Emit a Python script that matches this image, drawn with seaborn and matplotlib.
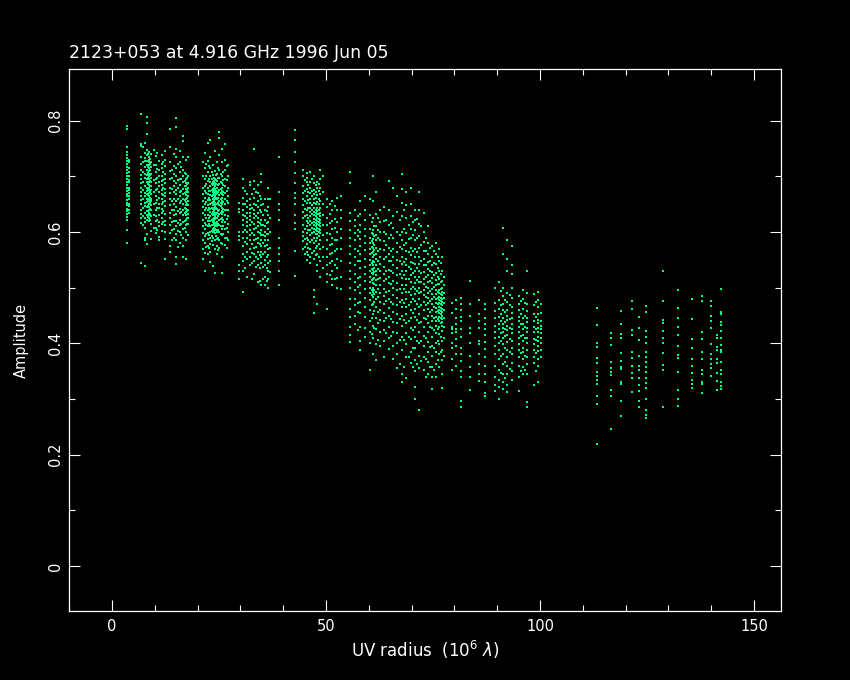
import matplotlib
matplotlib.use("Agg")
import matplotlib.pyplot as plt
import seaborn as sns
import pandas as pd
from matplotlib.ticker import MultipleLocator

TITLE = "2123+053 at 4.916 GHz 1996 Jun 05"
XLABEL = r"UV radius  (10$^{6}$ $\lambda$)"
YLABEL = "Amplitude"
x_major = [0, 50, 100, 150]
y_major = [0, 0.2, 0.4, 0.6, 0.8]

# each pair: UV radius (10^6 lambda) and the amplitudes (milli-units) read along that track
tracks = []
def T(x, vals): tracks.append((x, vals))

# cluster near 4
T(3.6,[790,785,753,744,738,733,728,722,716,711,706,700,695,690,684,679,674,669,664,658,653,648,642,637,632,627,622,604,580])
T(4.0,[730,715,700,690,680,670,660,650,640,726,708,694,676,664,646,634])
# 7-9
T(6.7,[813,759,755,735,722,712,703,695,688,680,672,665,657,650,640,632,625,617,545])
T(7.6,[760,742,733,728,716,704,698,683,671,664,652,646,634,626,618,607,590,585,539])
T(8.2,[807,796,776,748,738,728,720,712,702,695,690,680,674,668,660,654,645,638,630,622,596,578])
T(8.7,[744,735,730,725,720,715,710,705,700,695,690,685,680,675,670,665,660,655,650,645,640,635,630,625,620])
T(9.2,[740,725,716,705,698,690,682,676,668,660,655,648,640,628,615,601,588])
T(8.45,[741,727,717,707,697,687,677,667,657,647,637,627])
T(8.95,[732,722,712,702,692,682,672,662,652,642,632,622])
T(7.2,[752,726,708,690,676,660,644,628,612])
T(9.7,[748,720,694,672,650,630,608])
# 10-12.4
T(10.2,[736,720,708,695,688,675,664,652,640,628,620,607,598])
T(11.0,[728,712,700,690,682,672,662,651,643,630,618,610,591,586])
T(11.7,[738,722,715,700,692,684,676,668,660,650,642,634,625,614,602])
T(12.4,[745,730,718,705,696,688,678,670,664,655,646,632,620,612,600,587,552])
T(10.6,[742,714,698,678,658,644,622,604])
T(12.0,[726,708,694,680,666,654,638,618])
# 13.5-18
T(13.6,[785,752,725,710,695,680,670,660,648,635,625,612,598,575,565])
T(14.4,[740,718,704,692,682,672,660,650,640,630,620,605,590])
T(15.0,[805,789,750,735,715,700,688,676,668,655,645,632,620,610,596,585,556,543])
T(15.8,[745,726,708,695,684,672,664,652,642,634,622,612,600,580])
T(16.6,[773,764,735,712,700,690,678,668,660,650,640,630,618,606,590,575,556])
T(17.3,[730,705,695,689,683,678,672,667,660,654,648,642,636,630,622,612,600,585,552])
T(17.8,[735,700,688,680,672,664,656,648,640,632,625,615,594])
T(14.0,[712,698,678,656,640,618,604,586])
T(15.4,[722,694,680,660,638,616,602,574])
T(16.2,[716,696,674,656,636,614,594])
T(17.0,[706,692,682,670,658,644,634,620,608])
T(17.55,[698,686,675,662,650,638,626,614])
# 21-28
T(21.2,[725,700,680,668,655,645,634,622,610,598,585,570,552])
T(21.8,[742,715,695,682,674,662,650,640,630,616,606,592,580,563,530])
T(22.4,[760,728,708,692,680,668,658,648,640,630,620,610,598,588,575,560])
T(23.0,[765,735,715,700,690,682,674,666,658,650,642,636,628,620,610,600,590,578,565,547])
T(23.5,[720,702,690,684,678,672,666,660,654,648,642,636,630,624,618,612,606,600,590,576,539])
T(24.0,[745,710,695,689,683,677,671,665,659,653,647,641,635,629,623,617,611,605,599,585,570,527])
T(24.5,[725,705,692,680,670,660,650,642,634,626,618,610,600,588,575,560])
T(25.1,[780,769,738,712,698,686,676,666,656,648,640,632,622,612,600,586,572])
T(25.7,[750,725,700,688,680,674,668,662,656,650,644,638,632,626,618,606,594,578,555,527])
T(26.4,[758,730,712,695,682,670,660,650,640,630,618,605,590,576])
T(27.2,[720,700,680,665,652,640,628,615,600,585])
T(22.0,[722,700,686,670,654,644,626,612,596,574])
T(22.7,[718,696,674,662,644,626,614,594,572])
T(23.25,[708,696,686,676,664,652,644,632,622,612,602,592,584])
T(23.75,[698,692,686,680,674,668,662,656,650,644,638,632,626,620,614,608,602])
T(24.25,[702,694,686,674,668,662,650,644,632,626,614,604,592])
T(24.8,[715,698,684,672,662,652,638,628,614,604,590,568])
T(25.4,[704,690,678,670,660,652,646,634,624,610,596,580])
T(25.95,[708,694,684,672,666,654,642,636,622,610,596])
T(26.8,[718,694,674,656,640,624,608,590,572])
# 29-40
T(29.7,[652,642,636,600,592,585,540,530,515])
T(30.6,[695,680,662,650,640,630,622,612,600,590,575,560,548,530,492])
T(31.5,[668,655,645,635,625,618,610,600,590,578,565,552,520])
T(32.2,[690,684,660,648,642,634,628,622,612,604,595,585,570,555,540])
T(33.2,[750,692,678,662,650,640,632,625,615,605,595,585,572,560,548,525])
T(34.0,[685,670,655,645,635,625,618,610,600,590,580,565,552,540,510])
T(34.9,[705,690,660,648,636,622,612,604,595,585,575,565,555,545,505])
T(35.8,[660,640,622,610,600,592,585,575,565,550,540,520,505])
T(36.5,[680,660,645,630,618,606,596,585,570,558,545,530,515,500])
T(39.0,[735,672,650,640,622,590,572,560,548,530,505])
T(31.0,[674,650,628,604,582,556,536])
T(32.7,[668,644,618,598,578,562,544,516])
T(33.6,[672,648,628,608,588,574,556,538])
T(34.5,[664,640,616,598,578,558,536,512])
T(35.3,[650,630,612,594,580,560,538,515])
T(36.1,[638,616,596,576,556,536,512])
T(37.0,[660,626,600,572,548,528])
# 43-54
T(42.8,[784,766,744,725,706,688,670,662,650,630,616,606,566,521])
T(44.6,[712,700,682,670,660,648,636,625,612,600,592,584,570])
T(45.5,[706,698,690,678,665,652,640,630,620,610,598,590,578,565,550])
T(46.3,[708,690,680,670,660,652,644,636,628,620,612,604,594,582,570,555,545])
T(47.2,[700,688,676,668,660,652,644,636,630,624,618,612,606,600,590,580,566,552,496,484,455])
T(48.0,[690,680,666,654,644,638,632,626,620,614,608,602,596,590,575,560,540,530,470])
T(48.7,[712,695,680,668,656,644,634,628,622,616,610,604,598,586,570,548,520])
T(50.2,[660,645,625,612,598,585,570,555,540,525,510,462])
T(51.5,[655,640,620,605,590,578,562,548,530,515,505])
T(52.6,[662,640,618,600,585,570,552,535,518,500])
T(53.6,[665,640,625,606,590,570,548,520,498])
T(45.0,[694,674,656,642,628,606,588,574,560])
T(45.9,[684,672,658,644,626,616,604,586,572,558])
T(46.8,[696,674,664,648,640,632,616,608,598,586,562])
T(47.6,[684,672,662,650,640,634,628,622,616,610,604,596,584,572,558])
T(48.35,[686,674,660,650,640,632,624,618,612,606,600,592,578,556])
T(49.3,[700,672,650,630,612,594,574,556,536])
T(50.9,[650,632,616,596,576,560,544,522])
T(52.0,[646,624,608,586,566,540,516])
# 55-79
T(55.7,[708,689,635,620,604,590,575,560,545,530,515,500,480,462,448,430,415,403])
T(56.8,[640,622,610,598,585,570,556,540,525,510,495,480,468,450,435])
T(58.0,[655,632,612,600,588,575,560,548,535,520,505,490,475,455,430,405,388])
T(59.2,[665,640,622,605,592,580,568,552,538,525,512,498,482,466,448,428,412])
T(60.2,[660,630,606,590,580,570,560,550,540,530,520,510,500,490,478,460,440,420,400,352])
T(61.0,[700,655,625,604,596,588,580,572,564,556,548,540,532,524,516,508,500,492,484,470,452,432,410,380])
T(61.6,[672,632,610,595,585,572,560,552,540,530,522,514,504,492,480,465,445,425,398,370])
T(62.6,[640,618,600,585,570,556,542,530,518,505,490,474,460,442,420,395])
T(63.6,[645,620,600,584,568,552,538,524,512,498,485,470,455,440,424,405,375])
T(64.6,[692,640,612,590,572,560,548,532,520,508,494,480,464,450,430,410,390])
T(65.6,[680,628,608,590,570,556,540,526,512,500,486,470,456,438,420,396,372])
T(66.6,[665,636,600,580,564,550,535,522,508,495,482,468,452,436,418,400,380,355])
T(67.7,[705,678,652,628,600,585,570,556,542,530,518,504,490,478,465,450,432,412,388,345,330])
T(68.8,[672,648,625,598,580,566,552,540,530,516,504,492,480,466,452,436,418,398,375,338])
T(69.8,[680,650,628,606,590,572,558,546,534,522,510,498,486,474,460,446,428,408,385,365])
T(70.9,[640,622,604,586,570,556,542,530,520,508,498,488,476,462,448,430,412,392,370,350,322,300])
T(71.8,[672,640,615,592,572,556,542,530,520,510,500,490,480,466,452,436,420,400,378,355,280])
T(72.8,[635,600,582,566,552,540,528,516,506,496,486,474,460,446,430,414,396,376,352])
T(73.9,[610,580,560,546,534,522,510,500,490,482,472,462,450,436,420,402,384,366,345])
T(74.8,[575,555,540,528,518,508,498,488,480,470,460,450,440,428,412,395,378,358,340,318])
T(75.7,[580,560,542,526,514,504,496,488,480,472,464,456,448,440,432,418,400,385,362,340])
T(76.5,[570,548,530,516,506,496,490,484,478,472,466,460,454,448,440,430,416,398,380,358])
T(77.2,[555,530,512,500,492,486,480,474,468,462,456,450,444,438,432,422,405,388,370,345,320])
T(57.4,[628,604,592,566,548,518,502,472,456,424])
T(60.7,[618,598,584,574,562,544,534,526,514,496,486,468,446,416])
T(61.3,[610,592,576,568,558,546,536,528,518,506,496,488,474,458,428])
T(62.1,[626,604,590,566,548,534,516,498,484,456,436,406])
T(64.1,[622,596,576,556,530,516,492,476,446,418])
T(65.1,[616,594,566,548,530,506,474,444,414])
T(67.2,[622,594,574,548,524,498,474,444,406,362])
T(68.3,[640,606,576,546,522,498,472,442,406,358])
T(69.3,[612,588,564,538,516,492,468,440,412,376])
T(70.3,[618,594,566,544,526,502,480,454,424,392,358])
T(71.3,[624,590,564,536,514,494,470,442,404,362])
T(72.3,[610,576,548,526,510,492,468,438,404,368])
T(73.3,[590,566,540,520,502,484,468,444,410,372,340])
T(74.3,[572,548,530,512,494,476,456,430,394,358])
T(75.2,[566,544,522,502,484,466,446,424,392,352])
T(76.1,[556,536,520,506,492,482,470,458,444,426,404,370])
T(76.85,[544,524,510,498,488,482,476,470,464,458,452,446,436,412,384])
T(77.5,[520,504,490,482,472,460,446,430,410,378])
# 79-101
T(79.4,[472,455,430,425,418,400,392,372,352])
T(80.4,[478,462,445,435,425,420,408,395,380,360])
T(81.6,[482,470,460,448,440,425,412,392,380,368,350,340,296,285])
T(83.6,[512,470,450,428,418,400,378,358,340,316])
T(85.8,[478,452,440,428,405,398,380,362,345,332])
T(87.2,[470,462,445,435,425,415,402,390,375,360,345,330,310,305])
T(89.4,[500,472,458,445,432,420,410,395,380,360,340,326,315])
T(90.4,[510,478,462,448,435,425,412,400,388,372,352,335,322,300])
T(91.3,[608,560,500,485,470,460,445,435,428,420,410,398,380,362,345,330,318])
T(92.4,[585,552,530,490,475,460,450,442,432,424,415,402,388,375,360,345,325,312])
T(93.4,[575,540,525,500,482,465,455,445,435,426,418,405,392,380,365,350,335])
T(95.0,[485,470,460,448,440,430,420,410,398,388,375,360,340,315])
T(96.0,[495,480,462,445,435,425,415,405,392,385,372,358,345])
T(97.0,[530,490,470,458,446,438,428,420,410,400,388,376,362,345,295,285])
T(98.6,[488,468,452,440,430,420,408,398,388,375,365,325])
T(99.6,[492,478,465,452,442,436,428,420,412,404,396,386,372,360,330])
T(100.2,[470,455,440,432,425,418,410,400,388,375])
T(90.9,[494,468,452,440,418,404,378,346])
T(91.8,[478,456,438,426,414,392,366,338])
T(92.9,[486,468,444,428,408,384,354])
T(95.5,[476,452,434,414,382,350])
T(96.5,[472,450,430,410,378,352])
T(99.1,[474,448,426,406,382,350])
# 113-143
T(113.4,[464,433,401,394,374,365,349,342,334,327,306,291,219])
T(116.5,[419,410,397,367,356,349,343,316,306,246])
T(119.0,[458,435,417,410,383,369,354,358,331,327,297,270])
T(121.5,[476,462,424,415,385,374,360,347,338,313])
T(123.2,[448,428,406,378,360,352,338,325,315,297,286])
T(124.8,[467,457,422,412,401,385,376,367,358,349,338,329,320,300,280,271,266])
T(128.7,[530,476,442,437,422,410,401,383,361,352,286])
T(132.2,[496,464,446,430,415,395,379,374,349,316,300,288])
T(135.5,[480,444,408,392,372,360,347,334,327,320])
T(137.8,[485,476,421,408,385,372,352,345,331,327,311])
T(140.0,[476,467,449,440,428,399,381,372,363,356,342])
T(141.4,[415,410,394,388,372,365,347,333,316])
T(142.3,[498,457,453,439,433,422,410,397,388,385,367,352,345,331,324,318])

rows = [(x, v / 1000) for x, vals in tracks for v in vals]
df = pd.DataFrame(rows, columns=["radius", "amplitude"])

WHITE = "white"
GREEN = "#00ff7f"
plt.rcParams["font.family"] = ["DejaVu Sans"]
plt.rcParams["mathtext.fontset"] = "dejavusans"

fig = plt.figure(figsize=(8.5, 6.8), dpi=100, facecolor="black")
ax = fig.add_axes([69 / 850, 1 - 611 / 680, (781 - 69) / 850, (611 - 69) / 680], facecolor="black")
sns.scatterplot(data=df, x="radius", y="amplitude", ax=ax, marker="s", s=4.6,
                color=GREEN, linewidth=0, legend=False)
for c in ax.collections:
    c.set_antialiased(False)

ax.set_xlim(-10.05, 156.3)
ax.set_ylim(-0.081, 0.893)
ax.set_xticks(x_major)
ax.set_yticks(y_major)
ax.set_yticklabels([f"{v:g}" for v in y_major], rotation=90, va="center")
ax.xaxis.set_minor_locator(MultipleLocator(10))
ax.yaxis.set_minor_locator(MultipleLocator(0.1))
ax.tick_params(which="major", direction="in", length=8, width=0.8, colors=WHITE,
               top=True, right=True, labelsize=10.5)
ax.tick_params(which="minor", direction="in", length=4, width=0.8, colors=WHITE, top=True, right=True)
ax.tick_params(axis="x", which="major", pad=6)
ax.tick_params(axis="y", which="major", pad=4)
for s in ax.spines.values():
    s.set_color(WHITE)
    s.set_linewidth(0.9)
ax.set_xlabel(XLABEL, color=WHITE, fontsize=12, labelpad=3)
ax.set_ylabel(YLABEL, color=WHITE, fontsize=10.5, labelpad=14)
ax.set_title(TITLE, color=WHITE, fontsize=12.4, loc="left", pad=8)
fig.savefig("out.png", dpi=100, facecolor="black")
